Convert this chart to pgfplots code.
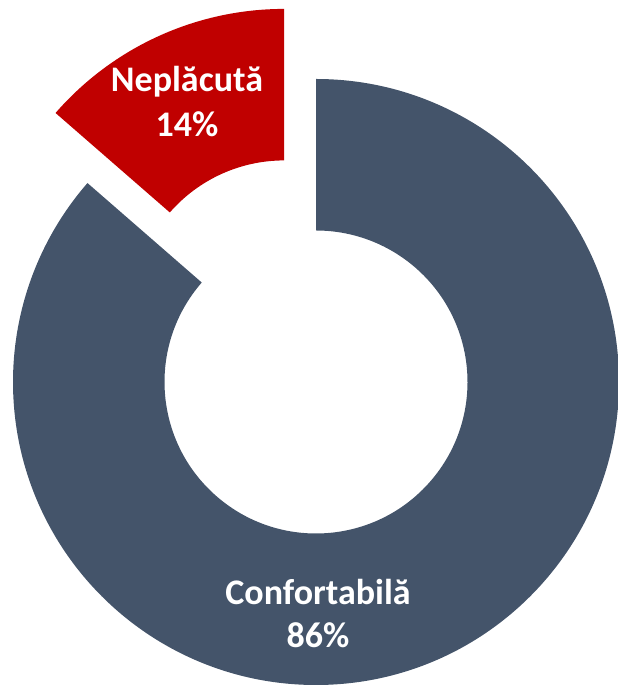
\documentclass[border=0pt]{standalone}
\usepackage{pgfplots}
\usepackage{pgfplotstable}
\pgfplotsset{compat=1.18}
\usepackage{fontspec}
\setmainfont{Carlito}
\definecolor{conf}{HTML}{44546A}
\definecolor{nepl}{HTML}{C00000}
\pgfplotstableread{
label value
Confortabila 86.4
Neplacuta 13.6
}\datatable
\begin{document}
\begin{tikzpicture}
\useasboundingbox (0,0) rectangle (618pt,685pt);
\pgfplotstablegetelem{0}{value}\of\datatable \let\vA\pgfplotsretval
\pgfplotstablegetelem{1}{value}\of\datatable \let\vB\pgfplotsretval
\pgfmathsetmacro\aEnd{90-3.6*\vA}
\pgfmathsetmacro\bStart{90+3.6*\vB}
\pgfmathsetmacro\bMid{90+1.8*\vB}
\begin{axis}[width=618pt,height=685pt,scale only axis,xmin=0,xmax=618,ymin=0,ymax=685,hide axis,clip=false]
\fill[conf, shift={(axis cs:316,303)}] (90:303pt) arc[start angle=90,end angle=\aEnd,radius=303pt] -- (\aEnd:151.5pt) arc[start angle=\aEnd,end angle=90,radius=151.5pt] -- cycle;
\fill[nepl, shift={(axis cs:316,303)}, shift={(\bMid:77pt)}] (90:303pt) arc[start angle=90,end angle=\bStart,radius=303pt] -- (\bStart:151.5pt) arc[start angle=\bStart,end angle=90,radius=151.5pt] -- cycle;
\node[anchor=base, text=white, font=\fontsize{36}{43}\selectfont\bfseries] at (axis cs:318,80) {Confortabilă};
\node[anchor=base, text=white, font=\fontsize{36}{43}\selectfont\bfseries] at (axis cs:318,37) {86\%};
\node[anchor=base, text=white, font=\fontsize{36}{43}\selectfont\bfseries] at (axis cs:187,593) {Neplăcută};
\node[anchor=base, text=white, font=\fontsize{36}{43}\selectfont\bfseries] at (axis cs:187,548) {14\%};
\end{axis}
\end{tikzpicture}
\end{document}
